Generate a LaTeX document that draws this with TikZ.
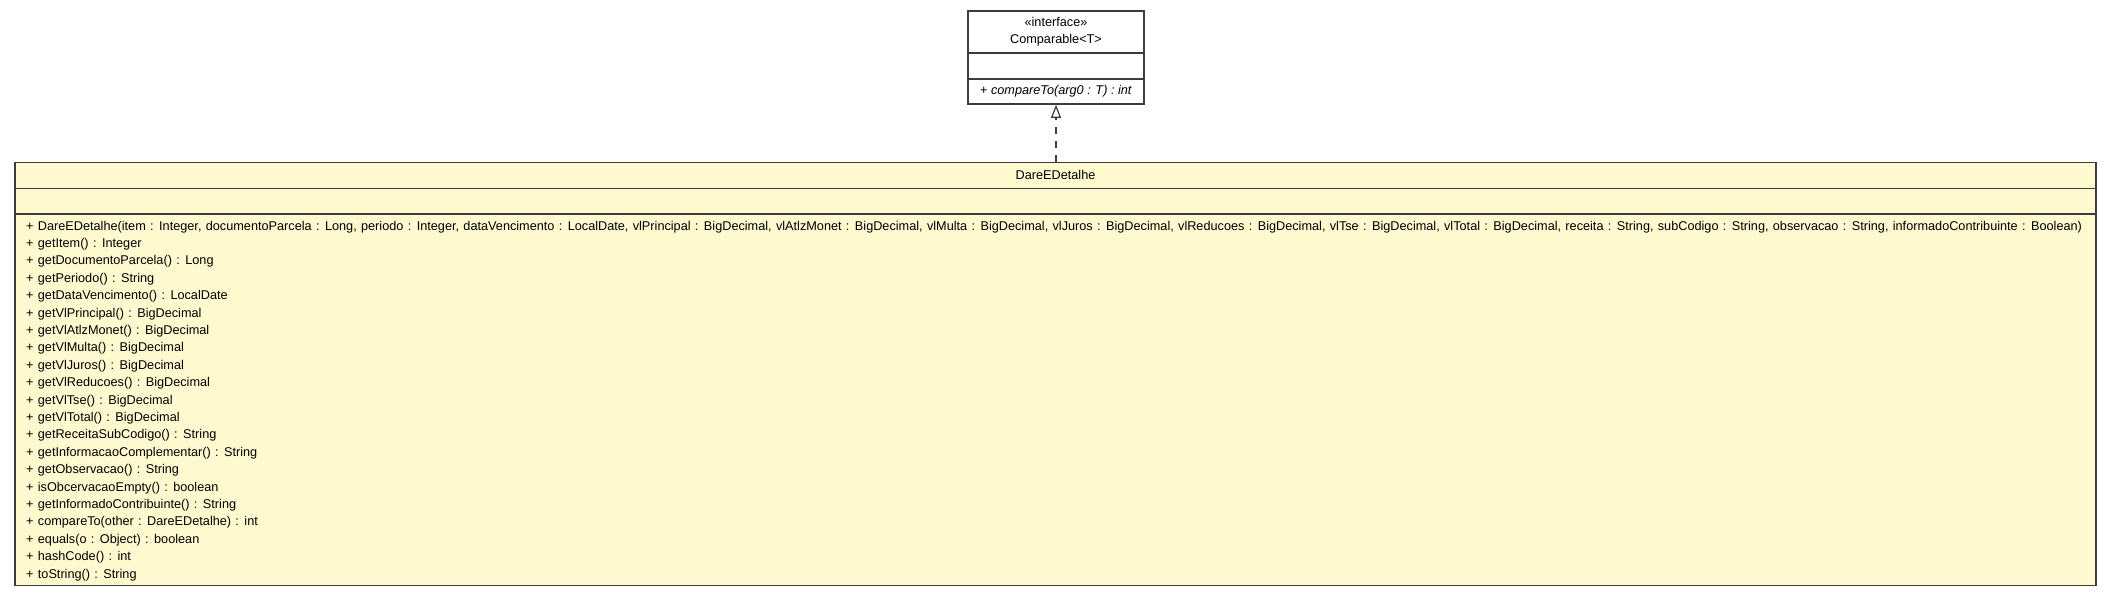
\documentclass[tikz,border=0pt]{standalone}
\usepackage{fontspec}
\setmainfont{Liberation Sans}
\definecolor{ClassFill}{RGB}{255, 249, 208}
\definecolor{EdgeGray}{RGB}{60, 60, 60}
\usetikzlibrary{arrows.meta, positioning, calc}
\newcommand{\memberfont}{\fontsize{12.7}{15}\selectfont\spaceskip 4.3pt\relax}

\begin{document}
\begin{tikzpicture}[
        x=1pt, y=-1pt,
        umlbox/.style={rectangle, draw=EdgeGray, line width=1.6pt, inner sep=0pt},
        divider/.style={draw=EdgeGray, line width=1.4pt},
        title/.style={anchor=base, inner sep=0pt, font=\fontsize{12.7}{15}\selectfont},
        member/.style={anchor=base west, inner sep=0pt, font=\memberfont},
        realize/.style={draw=EdgeGray, line width=1.6pt, dash pattern=on 7pt off 7pt,
            -{Triangle[open, length=13pt, width=10pt, line width=1.2pt]}}
    ]
        \useasboundingbox (0,0) rectangle (2112,596);

        % interface Comparable<T>
        \node[umlbox, fill=white, minimum width=176pt, minimum height=93pt] (ifc) at (1056,57.5) {};
        \draw[divider] (ifc.west |- 0,53) -- (ifc.east |- 0,53);
        \draw[divider] (ifc.west |- 0,79) -- (ifc.east |- 0,79);
        \node[title] (ifcstereo) at (1056,27) {«interface»};
        \node[title] (ifcname) at (1056,44) {Comparable<T>};
        \node[title] (ifcop) at (1056,95) {+ \textit{compareTo(arg0 : T) : int}};

        % class DareEDetalhe
        \node[umlbox, fill=ClassFill, minimum width=2081pt, minimum height=423pt] (dare) at (1055.5,374) {};
        \draw[divider] (dare.west |- 0,188.7) -- (dare.east |- 0,188.7);
        \draw[divider] (dare.west |- 0,214) -- (dare.east |- 0,214);
        \node[title] (darename) at (1055.5,179.3) {DareEDetalhe};

        \foreach \op [count=\i from 0] in {
            {+ DareEDetalhe(item : Integer, documentoParcela : Long, periodo : Integer, dataVencimento : LocalDate, vlPrincipal : BigDecimal, vlAtlzMonet : BigDecimal, vlMulta : BigDecimal, vlJuros : BigDecimal, vlReducoes : BigDecimal, vlTse : BigDecimal, vlTotal : BigDecimal, receita : String, subCodigo : String, observacao : String, informadoContribuinte : Boolean)},
            + getItem() : Integer,
            + getDocumentoParcela() : Long,
            + getPeriodo() : String,
            + getDataVencimento() : LocalDate,
            + getVlPrincipal() : BigDecimal,
            + getVlAtlzMonet() : BigDecimal,
            + getVlMulta() : BigDecimal,
            + getVlJuros() : BigDecimal,
            + getVlReducoes() : BigDecimal,
            + getVlTse() : BigDecimal,
            + getVlTotal() : BigDecimal,
            + getReceitaSubCodigo() : String,
            + getInformacaoComplementar() : String,
            + getObservacao() : String,
            + isObcervacaoEmpty() : boolean,
            + getInformadoContribuinte() : String,
            + compareTo(other : DareEDetalhe) : int,
            + equals(o : Object) : boolean,
            + hashCode() : int,
            + toString() : String}
            \node[member] (op\i) at (26,230+17.4*\i) {\op};

        % realization
        \draw[realize] (dare.north -| ifc.south) -- (ifc.south);
    \end{tikzpicture}
\end{document}
